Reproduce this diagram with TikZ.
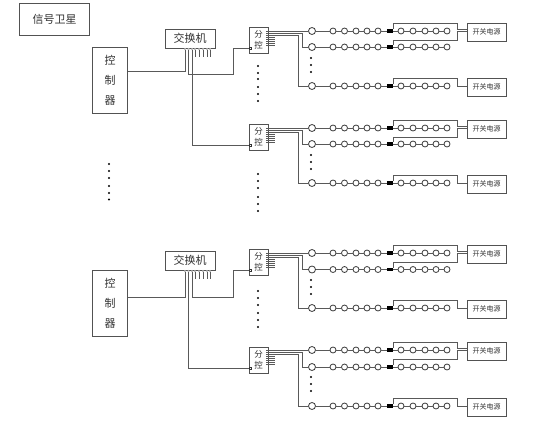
\documentclass[tikz,border=0pt]{standalone}
\usepackage{fontspec}
\setmainfont{Noto Sans CJK SC}
\tikzset{
  wire/.style={draw=black!65,line width=0.95pt},
  thinw/.style={draw=black!65,line width=0.75pt},
  box/.style={draw=black!68,line width=1pt,fill=white,inner sep=0pt,text=black!80},
  ring/.style={circle,draw=black!78,line width=0.8pt,fill=white,inner sep=0pt,minimum size=6pt},
  bigring/.style={ring,minimum size=7pt},
  blk/.style={rectangle,fill=black,inner sep=0pt,minimum width=6pt,minimum height=3.4pt},
  pin/.style={circle,draw=black!50,line width=0.3pt,fill=white,inner sep=0pt,minimum size=2pt},
  fpin/.style={rectangle,draw=black!80,line width=0.5pt,fill=white,inner sep=0pt,minimum size=2.2pt},
  bul/.style={circle,fill=black,inner sep=0pt,minimum size=2.4pt},
  psu/.style={box,minimum width=39pt,minimum height=18pt,font=\fontsize{7}{7}\selectfont},
  fkbox/.style={box,minimum width=19pt,minimum height=26pt,align=center,font=\fontsize{8.5}{10.5}\selectfont},
  swbox/.style={box,minimum width=50pt,minimum height=19pt,font=\fontsize{11}{11}\selectfont},
  ctlbox/.style={box,minimum width=35pt,minimum height=66pt,font=\fontsize{11}{20}\selectfont,align=center},
}
% one chain of lamps: name, y
\newcommand{\lampchain}[2]{%
  \node[bigring] (#1c0) at (312,#2) {};
  \foreach \n/\xx in {1/333,2/344.5,3/356,4/367,5/378} {\node[ring] (#1c\n) at (\xx,#2) {};}
  \node[blk] (#1s) at (390,#2) {};
  \foreach \n/\xx in {1/401,2/413,3/425,4/436,5/447} {\node[ring] (#1d\n) at (\xx,#2) {};}
  \draw[thinw] (#1c0)--(#1c1) (#1c1)--(#1c2) (#1c2)--(#1c3) (#1c3)--(#1c4) (#1c4)--(#1c5) (#1c5)--(#1s)
     (#1s)--(#1d1) (#1d1)--(#1d2) (#1d2)--(#1d3) (#1d3)--(#1d4) (#1d4)--(#1d5);
}
% name, fk top y, r1, r2, r3
\newcommand{\fkgroup}[5]{%
  \pgfmathsetmacro{\ra}{#3}\pgfmathsetmacro{\rb}{#4}\pgfmathsetmacro{\rc}{#5}
  \pgfmathsetmacro{\fkc}{#2+13}
  \pgfmathsetmacro{\bia}{#3+1}\pgfmathsetmacro{\bic}{#5+1}
  \pgfmathsetmacro{\topa}{#3-8}\pgfmathsetmacro{\topb}{#3+9}\pgfmathsetmacro{\topc}{#5-8}
  \node[fkbox] (#1f) at (258.5,\fkc) {分\\控};
  \node[fpin] (#1p) at (250.5,#2+21) {};
  \lampchain{#1a}{\ra}
  \lampchain{#1b}{\rb}
  \lampchain{#1e}{\rc}
  \node[psu] (#1u) at (486.5,\bia) {开关电源};
  \node[psu] (#1v) at (486.5,\bic) {开关电源};
  % branches
  \foreach \k in {0,...,7} {\draw[thinw] (266,\ra+2*\k) -- (274.5,\ra+2*\k);}
  \draw[wire] (#1f.east |- #1ac0) -- (#1ac0);
  \coordinate (#1k) at (#1f.east |- 0,\ra+2);
  \coordinate (#1m) at (#1f.east |- 0,\ra+4);
  \draw[wire] (#1k) -| (302,\rb) -- (#1bc0);
  \draw[wire] (#1m) -| (298,\rc) -- (#1ec0);
  % supply loops
  \draw[wire] (#1as.north east) |- (457,\topa) |- ([yshift=3pt]#1u.west);
  \draw[wire] (#1bs.north east) |- (457,\topb) |- ([yshift=1pt]#1u.west);
  \draw[wire] (#1es.north east) |- (457,\topc) |- ([yshift=1pt]#1v.west);
  % dots between rows
  \foreach \dd in {27,34,41} {\node[bul] at (311,\ra+\dd) {};}
}
% name, switch top, ctrl top
\newcommand{\swparts}[3]{%
  \node[swbox] (#1sw) at (190,#2+9.5) {交换机};
  \node[ctlbox] (#1ctl) at (110,#3+33) {控\\制\\器};
  \foreach \n/\xx in {1/185,2/188.5,3/192,4/195,5/199,6/203,7/207,8/210} {\node[pin] (#1q\n) at (\xx,#2+20) {};}
  \foreach \n in {4,...,8} {\draw[wire,line width=0.8pt] (#1q\n.south) -- ++(0,7);}
}
\begin{document}
\begin{tikzpicture}[x=1pt,y=-1pt]
\useasboundingbox (0,0) rectangle (549,439);
\node[box,minimum width=70pt,minimum height=32pt,font=\fontsize{11}{11}\selectfont] (sat) at (54.6,19) {信号卫星};
\foreach \yy in {164,171,178,186,193,199.5} {\node[bul] at (109,\yy) {};}

% upper half
\fkgroup{A}{27}{31}{47}{86}
\fkgroup{B}{124}{128}{144}{183}
\swparts{U}{29}{47.7}
\foreach \yy in {66,73,79,87,94,101,174,181,188,197,204,211} {\node[bul] at (258,\yy) {};}
\draw[wire] ([yshift=9.7pt]Uctl.east) -| (Uq1.south);
\coordinate (Us1) at (233,74);
\draw[wire] (Uq2.south) |- (Us1) |- (Ap);
\draw[wire] (Uq3.south) |- (Bp);

% lower half
\fkgroup{C}{249}{253}{269.5}{308}
\fkgroup{D}{347}{350}{367}{406}
\swparts{L}{251}{270}
\foreach \yy in {291,298,305,313,320,327} {\node[bul] at (258,\yy) {};}
\draw[wire] ([yshift=6pt]Lctl.east) -| (Lq1.south);
\coordinate (Ls1) at (233,297);
\draw[wire] (Lq3.south) |- (Ls1) |- (Cp);
\draw[wire] (Lq2.south) |- (Dp);
\end{tikzpicture}
\end{document}
